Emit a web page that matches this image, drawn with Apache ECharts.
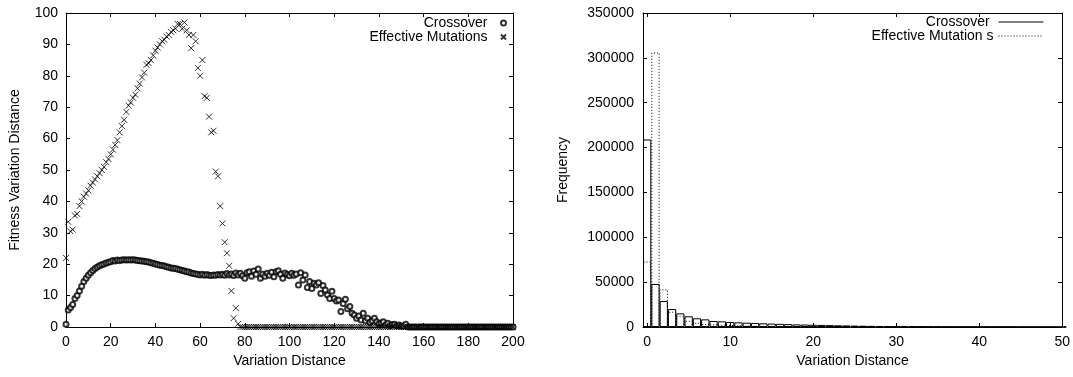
<!DOCTYPE html>
<html>
<head>
<meta charset="utf-8">
<script src="https://cdn.jsdelivr.net/npm/echarts@6/dist/echarts.min.js"></script>
<style>
html,body{margin:0;padding:0;background:#fff;}
#c{width:1073px;height:377px;}
</style>
</head>
<body>
<div id="c"></div>
<script>
// ---- Left plot: fitness variation distance vs variation distance (x = 0..200) ----
var crossoverFitness = [
0.9,5.4,6.2,7.2,9.1,10,11.5,13,14.5,15.5,
16.5,17.3,18,18.6,19.1,19.5,19.8,20.1,20.4,20.6,
20.8,21.2,21.0,21.3,21.2,21.3,21.4,21.3,21.4,21.3,
21.4,21.3,21.2,21.1,21.0,20.9,20.8,20.7,20.5,20.3,
20.1,19.9,19.7,19.6,19.4,19.2,19.0,18.8,18.7,18.6,
18.4,18.2,18.0,17.8,17.6,17.5,17.2,17.0,16.9,16.8,
16.6,16.8,16.5,16.7,16.5,16.4,16.6,16.5,16.7,16.6,
16.8,16.5,17.0,16.6,16.9,16.4,17.2,16.6,17.1,16.3,
15.5,17.3,17.6,16.2,17.8,16.8,18.5,15.5,16.8,16.2,
17.1,16.5,17.4,16.0,17.6,17.9,16.8,15.5,17.2,16.7,
16.3,17.1,16.5,16.9,13.4,17.3,15.0,16.6,12.6,14.5,
12.3,13.9,13.4,14.1,10.7,13.2,11.8,10.2,9.1,11.4,
9.1,8.3,8.6,4.9,7.5,8.8,5.8,6.5,4.4,3.8,
2.8,3.5,2.2,4.4,2.0,2.8,1.5,2.0,2.8,1.7,
1.0,1.3,1.7,0.6,1.2,0.5,0.8,0.9,0.4,0.6,
0.3,0.2,0.9,0,0,0,0,0,0,0,
0,0,0,0,0,0,0,0,0,0,
0,0,0,0,0,0,0,0,0,0,
0,0,0,0,0,0,0,0,0,0,
0,0,0,0,0,0,0,0,0,0,
0
];
var mutationFitness = [
22,33.5,30.5,31,35.5,36,38.5,40,41.5,42.5,
43.5,45,46,47,48,49,50,51,52.5,53.5,
55,56.5,58,59.5,62,64,66,68.5,70.5,71.5,
73,74,76,77.5,79.5,81,83.5,84,85,86.5,
88,89,90,91,91.5,92.5,93,94,94.5,95,
96.5,96.5,95,97,94.5,93,88.8,93,91,82.5,
80,85,73.5,73,67,62,62.5,49.5,48,38.5,
33,27,23.5,19.5,11.5,2.8,6,1
];
// ---- Right plot: frequency histogram (x = 0..50) ----
var crossoverFreq = [
209000,48000,29000,20000,15200,11900,9700,8500,6700,6300,
5600,5200,4800,4500,4100,3800,3500,3200,2900,2700,
2500,2300,2100,1900,1700,1550,1400,1250,1100,1000,
900,800,700,620,550,480,420,370,320,280,
240,210,180,160,140,120,100,90,80,70,
60
];
var mutationFreq = [
73000,306000,42000,17000,12500,7000,4800,3300,3000,2600,
2200,1900,1600,1400,1200,1000,900,800,700,600,
500,430,370,320,270,230,190,160,130,110,
90,70,60,50,40,30,25,20,15,10,
8,5,4,3,2,2,1,1,1,0,
0
];
var rightXTicks = [0,10,20,30,40,50];

function pairs(arr, n) {
  var out = [];
  for (var i = 0; i < n; i++) out.push([i, i < arr.length ? arr[i] : 0]);
  return out;
}

var FONT = 'Liberation Sans';
var TXT = {color:'#000', fontFamily: FONT, fontSize: 14};
function axisLine() { return {show:true, onZero:false, lineStyle:{color:'#000', width:1}}; }
function tickIn(extra) {
  var t = {show:true, inside:true, length:4, lineStyle:{color:'#000', width:1}};
  if (extra) for (var k in extra) t[k] = extra[k];
  return t;
}
function lab(extra) {
  var t = {show:true, color:'#000', fontFamily:FONT, fontSize:14, formatter:function(v){return String(v);}};
  if (extra) for (var k in extra) t[k] = extra[k];
  return t;
}

var chart = echarts.init(document.getElementById('c'), null, {renderer:'canvas'});
var option = {
  animation: false,
  backgroundColor: '#fff',
  textStyle: {fontFamily: FONT},
  grid: [
    {left:66, right:560, top:13, bottom:50, containLabel:false},
    {left:643, right:10, top:13, bottom:50, containLabel:false}
  ],
  xAxis: [
    {type:'value', gridIndex:0, min:0, max:200, interval:20, position:'bottom',
     name:'Variation Distance', nameLocation:'middle', nameGap:26, nameTextStyle:TXT,
     axisLine:axisLine(), axisTick:tickIn(), splitLine:{show:false},
     axisLabel:lab({margin:8})},
    {type:'value', gridIndex:0, min:0, max:200, interval:20, position:'top',
     axisLine:axisLine(), axisTick:tickIn(), splitLine:{show:false}, axisLabel:{show:false}},
    {type:'value', gridIndex:1, min:-0.5, max:50, position:'bottom',
     name:'Variation Distance', nameLocation:'middle', nameGap:26, nameTextStyle:TXT,
     axisLine:axisLine(), splitLine:{show:false},
     axisTick:tickIn({customValues:rightXTicks}),
     axisLabel:lab({margin:8, customValues:rightXTicks})},
    {type:'value', gridIndex:1, min:-0.5, max:50, position:'top',
     axisLine:axisLine(), splitLine:{show:false},
     axisTick:tickIn({customValues:rightXTicks}),
     axisLabel:{show:false, customValues:rightXTicks}}
  ],
  yAxis: [
    {type:'value', gridIndex:0, min:0, max:100, interval:10, position:'left',
     name:'Fitness Variation Distance', nameLocation:'middle', nameGap:44, nameTextStyle:TXT,
     axisLine:axisLine(), axisTick:tickIn(), splitLine:{show:false},
     axisLabel:lab({margin:8})},
    {type:'value', gridIndex:0, min:0, max:100, interval:10, position:'right',
     axisLine:axisLine(), axisTick:tickIn(), splitLine:{show:false}, axisLabel:{show:false}},
    {type:'value', gridIndex:1, min:0, max:350000, interval:50000, position:'left',
     name:'Frequency', nameLocation:'middle', nameGap:73, nameTextStyle:TXT,
     axisLine:axisLine(), axisTick:tickIn(), splitLine:{show:false},
     axisLabel:lab({margin:9})},
    {type:'value', gridIndex:1, min:0, max:350000, interval:50000, position:'right',
     axisLine:axisLine(), axisTick:tickIn(), splitLine:{show:false}, axisLabel:{show:false}}
  ],
  legend: [
    {orient:'vertical', right:566, top:16, align:'right', padding:0, itemGap:0,
     itemWidth:22, itemHeight:5,
     textStyle:{color:'#000', fontFamily:FONT, fontSize:14, lineHeight:13},
     data:['Crossover','Effective Mutations']},
    {orient:'vertical', right:29, top:15, align:'right', padding:0, itemGap:0,
     itemWidth:45, itemHeight:6,
     textStyle:{color:'#000', fontFamily:FONT, fontSize:14, lineHeight:12},
     data:[
       {name:'Crossover ', icon:'path://M0,0L0,0M0,3L45,3M45,6L45,6',
        itemStyle:{color:'rgba(0,0,0,0)', borderColor:'#000', borderWidth:1, borderType:'solid', opacity:1}},
       {name:'Effective Mutation s', icon:'path://M0,0L0,0M0,3L45,3M45,6L45,6',
        itemStyle:{color:'rgba(0,0,0,0)', borderColor:'#000', borderWidth:1, borderType:[1,2], opacity:1}}
     ]}
  ],
  series: [
    {name:'Crossover', type:'scatter', xAxisIndex:0, yAxisIndex:0,
     symbol:'emptyCircle', symbolSize:5,
     itemStyle:{color:'#000', borderColor:'#000', borderWidth:0.7},
     data: pairs(crossoverFitness, 201)},
    {name:'Effective Mutations', type:'scatter', xAxisIndex:0, yAxisIndex:0,
     symbol:'path://M0,0L10,10M10,0L0,10', symbolSize:6,
     itemStyle:{color:'rgba(0,0,0,0)', borderColor:'#000', borderWidth:1},
     data: pairs(mutationFitness, 201)},
    {name:'Effective Mutation s', type:'bar', xAxisIndex:2, yAxisIndex:2,
     barWidth:8.3, barGap:'-100%',
     itemStyle:{color:'rgba(0,0,0,0)', borderColor:'#000', borderWidth:1, borderType:[1,2]},
     data: pairs(mutationFreq, 51)},
    {name:'Crossover ', type:'bar', xAxisIndex:2, yAxisIndex:2,
     barWidth:8.3, barGap:'-100%',
     itemStyle:{color:'rgba(0,0,0,0)', borderColor:'#000', borderWidth:1},
     data: pairs(crossoverFreq, 51)}
  ]
};
chart.setOption(option);
</script>
</body>
</html>
